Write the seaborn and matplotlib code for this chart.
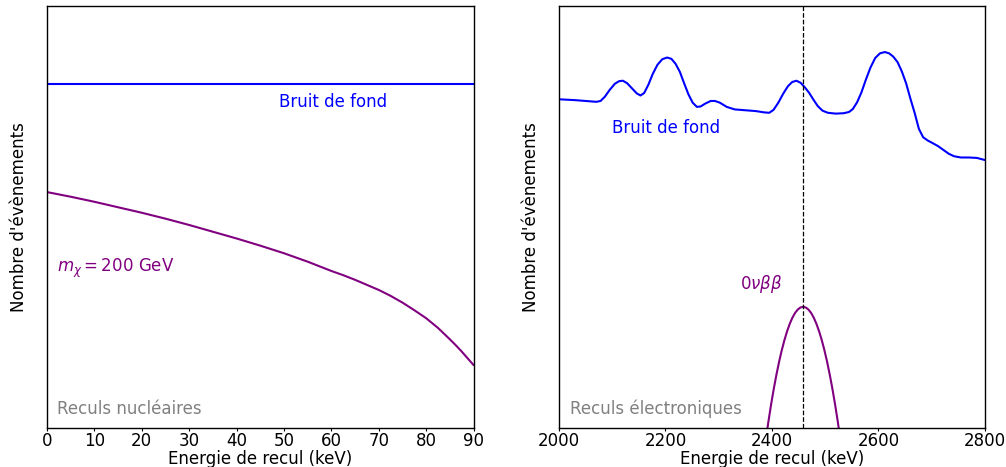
import numpy as np
import pandas as pd
import seaborn as sns
import matplotlib
matplotlib.use("Agg")
import matplotlib.pyplot as plt

# left panel: nuclear recoils (arbitrary units, 0..1)
nr_energy = [0, 5, 10, 15, 20, 25, 30, 35, 40, 45, 50, 55, 60, 62.5, 65, 67.5, 70, 72.5, 75,
             77.5, 80, 82.5, 85, 86.25, 87.5, 88.75, 90]
nr_signal = [0.560, 0.549, 0.537, 0.524, 0.511, 0.497, 0.482, 0.466, 0.450, 0.433, 0.415,
             0.395, 0.373, 0.363, 0.352, 0.340, 0.328, 0.314, 0.298, 0.280, 0.261, 0.238,
             0.211, 0.197, 0.182, 0.166, 0.150]
nr_bkg_energy = [0, 90]
nr_bkg = [0.816, 0.816]

# right panel: electronic recoils
er_bkg_energy = [2000, 2030, 2060, 2070, 2078, 2086, 2095, 2105, 2113, 2120, 2128, 2137, 2146,
                 2153, 2160, 2168, 2176, 2185, 2194, 2203, 2211, 2219, 2227, 2235, 2243, 2251,
                 2259, 2266, 2275, 2285, 2293, 2302, 2315, 2330, 2350, 2370, 2385, 2395, 2403,
                 2412, 2421, 2430, 2438, 2446, 2454, 2462, 2470, 2478, 2486, 2495, 2505, 2520,
                 2535, 2545, 2552, 2560, 2568, 2576, 2585, 2594, 2603, 2612, 2620, 2628, 2636,
                 2644, 2652, 2660, 2668, 2676, 2684, 2693, 2702, 2712, 2722, 2732, 2742, 2755,
                 2770, 2785, 2800]
er_bkg = [0.780, 0.778, 0.775, 0.774, 0.776, 0.786, 0.802, 0.817, 0.823, 0.824, 0.818, 0.806, 0.794,
          0.789, 0.795, 0.815, 0.840, 0.862, 0.875, 0.879, 0.876, 0.864, 0.845, 0.818, 0.792, 0.772,
          0.762, 0.763, 0.770, 0.776, 0.776, 0.772, 0.762, 0.756, 0.754, 0.752, 0.749, 0.748, 0.755,
          0.772, 0.793, 0.811, 0.821, 0.824, 0.819, 0.808, 0.795, 0.779, 0.764, 0.753, 0.748, 0.746,
          0.747, 0.750, 0.757, 0.773, 0.796, 0.825, 0.855, 0.878, 0.889, 0.892, 0.889, 0.881, 0.868,
          0.846, 0.818, 0.782, 0.748, 0.710, 0.690, 0.682, 0.676, 0.669, 0.660, 0.651, 0.645, 0.642,
          0.642, 0.641, 0.636]

bb_energy = [2383.5, 2388.5, 2393.5, 2398.5, 2403.5, 2408.5, 2413.5, 2418.5, 2423.5, 2428.5,
             2433.5, 2438.5, 2443.5, 2448.5, 2453.5, 2458.5, 2463.5, 2468.5, 2473.5, 2478.5,
             2483.5, 2488.5, 2493.5, 2498.5, 2503.5, 2508.5, 2513.5, 2518.5, 2523.5, 2528.5, 2533.5]
bb_signal = [-0.0733, -0.0263, 0.0172, 0.0573, 0.0941, 0.1277, 0.1582, 0.1854, 0.2094, 0.2302,
             0.2479, 0.2623, 0.2736, 0.2816, 0.2864, 0.2880, 0.2864, 0.2816, 0.2736, 0.2623,
             0.2479, 0.2302, 0.2094, 0.1854, 0.1582, 0.1277, 0.0941, 0.0573, 0.0172, -0.0263, -0.0733]
q_value = 2458

sns.set_style("white")
plt.rcParams['font.family'] = ['DejaVu Sans']
plt.rcParams['font.size'] = 12
plt.rcParams['mathtext.fontset'] = 'dejavusans'
plt.rcParams['text.color'] = 'black'
plt.rcParams['axes.labelcolor'] = 'black'

fig = plt.figure(figsize=(10.06, 4.67), dpi=100)
ax1 = fig.add_axes([0.0467, 0.0829, 0.4240, 0.9032])
ax2 = fig.add_axes([0.5557, 0.0829, 0.4233, 0.9032])

sns.lineplot(x=nr_bkg_energy, y=nr_bkg, ax=ax1, color="blue", lw=1.5)
sns.lineplot(x=nr_energy, y=nr_signal, ax=ax1, color="purple", lw=1.5)
ax1.text(49, 0.773, "Bruit de fond", color="blue", fontsize=12, va="center")
ax1.text(2.1, 0.380, r"$m_\chi = 200$ GeV", color="purple", fontsize=12, va="center")
ax1.text(0.023, 0.046, "Reculs nucléaires", color="grey", fontsize=12, va="center",
         transform=ax1.transAxes)
ax1.set_xlim(0, 90)
ax1.set_xticks(range(0, 91, 10))

sns.lineplot(x=er_bkg_energy, y=er_bkg, ax=ax2, color="blue", lw=1.5)
sns.lineplot(x=bb_energy, y=bb_signal, ax=ax2, color="purple", lw=1.5)
ax2.axvline(q_value, color="black", lw=0.9, ls="--")
ax2.text(2100, 0.712, "Bruit de fond", color="blue", fontsize=12, va="center")
ax2.text(2340, 0.342, r"$0\nu\beta\beta$", color="purple", fontsize=12, va="center")
ax2.text(0.026, 0.046, "Reculs électroniques", color="grey", fontsize=12, va="center",
         transform=ax2.transAxes)
ax2.set_xlim(2000, 2800)
ax2.set_xticks(range(2000, 2801, 200))

for ax in (ax1, ax2):
    ax.set_ylim(0, 1)
    ax.set_yticks([])
    ax.set_xlabel("Energie de recul (keV)", fontsize=12, labelpad=-0.5)
    ax.set_ylabel("Nombre d'évènements", fontsize=12, labelpad=14)
    ax.tick_params(axis="x", bottom=True, direction="out", length=2, width=0.8,
                   labelsize=12, pad=1, colors="black")
    for s in ax.spines.values():
        s.set_color("black")
        s.set_linewidth(1.0)

plt.savefig("out.png", dpi=100)
